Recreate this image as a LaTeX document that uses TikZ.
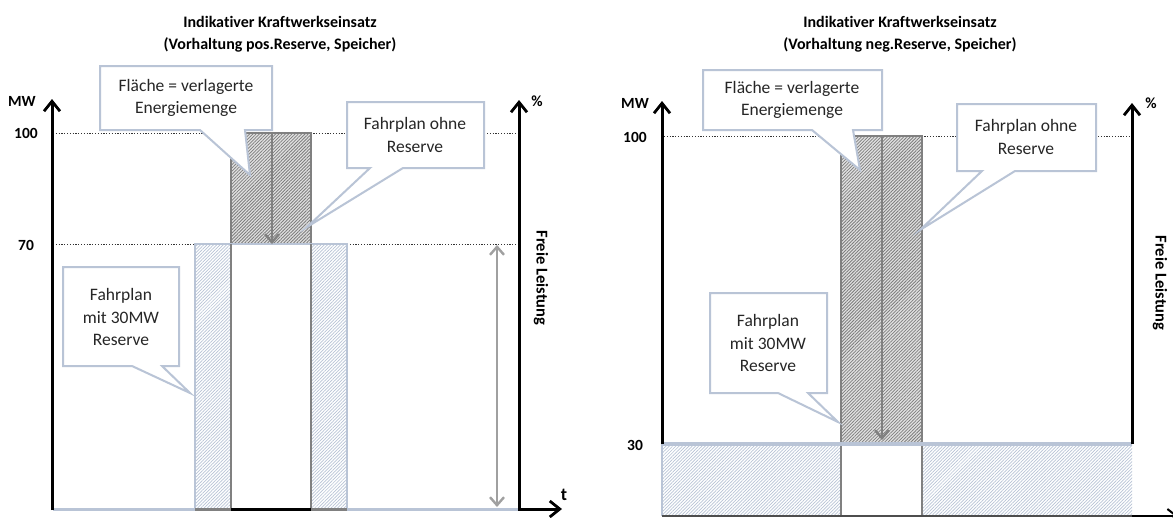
\documentclass[tikz,border=0pt]{standalone}
\usepackage{fontspec}
\setmainfont{Carlito}[Ligatures=NoCommon]
\usetikzlibrary{arrows.meta,patterns.meta}
\definecolor{cline}{RGB}{185,196,214}
\definecolor{chatch}{RGB}{184,195,214}
\definecolor{dgray}{RGB}{128,128,128}
\definecolor{dhatch}{RGB}{125,125,125}
\definecolor{dfill}{RGB}{225,225,225}
\definecolor{agray}{RGB}{160,160,160}
\definecolor{txt}{RGB}{38,38,38}
\tikzset{
  axisline/.style={line width=3pt, black, line cap=butt},
  barbtip/.tip={Straight Barb[length=10pt,width=16pt,line width=2.8pt]},
  barb/.style={-barbtip},
  guide/.style={line width=0.8pt, black!80, dash pattern=on 1.2pt off 1.6pt},
  lighthatch/.style={pattern={Lines[angle=45,distance=2.3pt,line width=0.7pt]}, pattern color=chatch},
  darkhatch/.style={fill=dfill, postaction={pattern={Lines[angle=45,distance=2.3pt,line width=0.8pt]}, pattern color=dhatch}},
  lightedge/.style={cline, line width=2.4pt},
  darkedge/.style={dgray, line width=2.4pt},
  bubble/.style={fill=white, draw=cline, line width=2pt, line join=miter},
  bubbletext/.style={font=\fontsize{17.5}{22.5}\selectfont, text=txt, align=center, inner sep=0pt},
  title/.style={font=\fontsize{16}{22}\selectfont\bfseries, align=center, inner sep=0pt},
  tick/.style={font=\fontsize{15.5}{17}\selectfont\bfseries, inner sep=0pt},
  vlabel/.style={font=\fontsize{16.5}{18}\selectfont\bfseries, rotate=-90, inner sep=0pt},
  graytip/.tip={Straight Barb[length=8pt,width=14pt,line width=2.4pt]},
  downarrow/.style={dgray, line width=2.8pt, -graytip},
  dblarrow/.style={agray, line width=2.4pt, graytip-graytip},
}
\begin{document}
\begin{tikzpicture}[x=1pt,y=-1pt]
\useasboundingbox (0,0) rectangle (1173,517);
\fill[white] (0,0) rectangle (1173,517);

% ================= LEFT PANEL =================
\node[title] (t1) at (280,34) {Indikativer Kraftwerkseinsatz\\(Vorhaltung pos.Reserve, Speicher)};

\draw[guide] (53,133) -- (519,133);
\draw[guide] (53,244) -- (519,244);

% light hatched reserve bars
\path[lighthatch] (195,244) rectangle (231,509);
\path[lighthatch] (311,244) rectangle (347,509);
% dark hatched shifted energy
\path[darkhatch] (231,133) rectangle (311,244);
\draw[darkedge] (231,244) -- (231,133) -- (311,133) -- (311,244);
\draw[lightedge] (195,509) -- (195,244) -- (347,244) -- (347,509);
\draw[darkedge] (231,244) -- (231,509);
\draw[darkedge] (311,244) -- (311,509);
% baseline
\draw[cline, line width=3pt] (53,509) -- (195,509);
\draw[cline, line width=3pt] (347,509) -- (519,509);
\draw[dgray, line width=3pt] (195,509) -- (231,509);
\draw[dgray, line width=3pt] (311,509) -- (347,509);
\draw[black, line width=3pt] (231,509) -- (311,509);

\coordinate (aL1) at (272,133);
\coordinate (aL2) at (272,244);
\draw[downarrow] (aL1) -- (aL2);
\coordinate (dL1) at (497,245);
\coordinate (dL2) at (497,507);
\draw[dblarrow] (dL1) -- (dL2);

% callouts
\draw[bubble] (100,66) -- (272,66) -- (272,130) -- (245,130) -- (250,175) -- (200,130) -- (100,130) -- cycle;
\node[bubbletext] (cL1) at (186,98) {Fläche = verlagerte\\Energiemenge};
\draw[bubble] (347,102) -- (484,102) -- (484,168) -- (403,168) -- (307,227) -- (370,168) -- (347,168) -- cycle;
\node[bubbletext] (cL2) at (415,135) {Fahrplan ohne\\Reserve};
\draw[bubble] (63,267) -- (179,267) -- (179,366) -- (162,366) -- (190,393) -- (132,366) -- (63,366) -- cycle;
\node[bubbletext] (cL3) at (121,317) {Fahrplan\\mit 30MW\\Reserve};

% axes
\draw[axisline, barb] (52,510) -- (52,99);
\draw[axisline, barbtip-barbtip, line join=miter] (519,100) -- (519,509) -- (562,509);
\node[tick] (mwL) at (22,101) {MW};
\node[tick] (l100) at (26,133) {100};
\node[tick] (l70) at (26,245) {70};
\node[tick] (pctL) at (537,101) {\%};
\node[tick, font=\fontsize{18}{18}\selectfont\bfseries] (tL) at (564,495) {t};
\node[vlabel] (fL) at (541,278) {Freie Leistung};

% ================= RIGHT PANEL =================
\node[title] (t2) at (900,34) {Indikativer Kraftwerkseinsatz\\(Vorhaltung neg.Reserve, Speicher)};

\draw[guide] (664,136) -- (1132,136);

\path[lighthatch] (662,444) rectangle (841,516);
\path[lighthatch] (922,444) rectangle (1132,516);
\path[darkhatch] (841,136) rectangle (922,444);
\draw[darkedge] (841,444) -- (841,136) -- (922,136) -- (922,444);
\draw[darkedge] (841,444) -- (841,516);
\draw[darkedge] (922,444) -- (922,516);
\draw[cline, line width=1.5pt] (662,444) -- (662,516);
\draw[cline, line width=3.2pt] (662,444) -- (1132,444);
\draw[dgray!60!black, line width=1.6pt] (662,516) -- (1132,516);

\coordinate (aR1) at (882,136);
\coordinate (aR2) at (882,440);
\draw[downarrow] (aR1) -- (aR2);

\draw[bubble] (703,70) -- (882,70) -- (882,130) -- (853,130) -- (860,170) -- (812,130) -- (703,130) -- cycle;
\node[bubbletext] (cR1) at (792,100) {Fläche = verlagerte\\Energiemenge};
\draw[bubble] (957,104) -- (1096,104) -- (1096,171) -- (1015,171) -- (920,230) -- (982,171) -- (957,171) -- cycle;
\node[bubbletext] (cR2) at (1026,137) {Fahrplan ohne\\Reserve};
\draw[bubble] (710,293) -- (827,293) -- (827,393) -- (808,393) -- (838,422) -- (778,393) -- (710,393) -- cycle;
\node[bubbletext] (cR3) at (768,343) {Fahrplan\\mit 30MW\\Reserve};

\draw[axisline, barb] (662,444) -- (662,101);
\draw[axisline, barb] (1132,444) -- (1132,103);
\draw[black, line width=1.6pt, -{Straight Barb[length=9pt,width=14pt,line width=2pt]}] (1132,516) -- (1178,516);
\node[tick] (mwR) at (635,103) {MW};
\node[tick] (r100) at (635,137) {100};
\node[tick] (r30) at (635,445) {30};
\node[tick] (pctR) at (1151,103) {\%};
\node[vlabel] (fR) at (1160,283) {Freie Leistung};
\end{tikzpicture}
\end{document}
